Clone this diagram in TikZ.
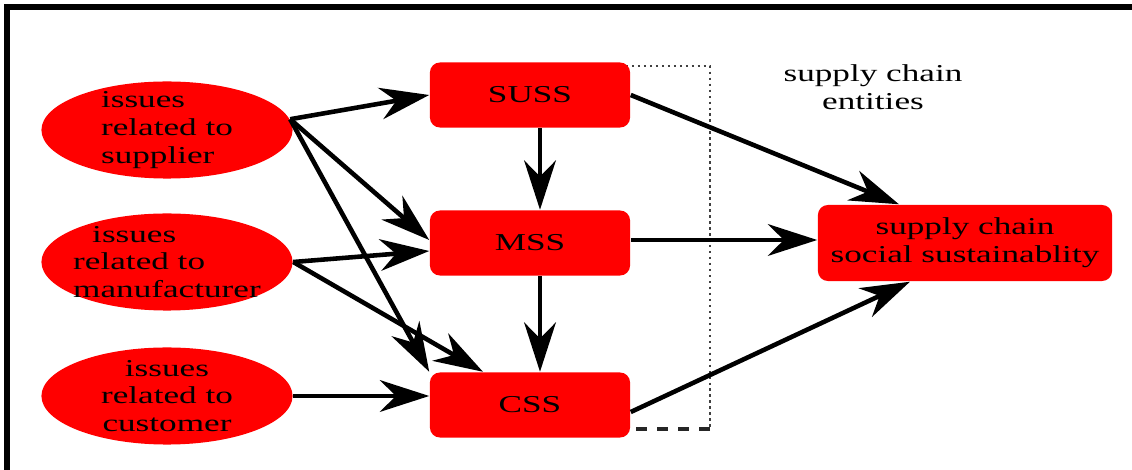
\documentclass[tikz,border=0pt]{standalone}
\usepackage{fontspec}
\setmainfont[FakeStretch=1.45]{Liberation Serif}
\usetikzlibrary{arrows.meta,shapes.geometric}

\newcommand{\sscfont}{\fontsize{6.9}{7.9}\selectfont}

\tikzset{
  issue/.style={ellipse, fill=red, minimum width=2.51cm, minimum height=0.97cm, inner sep=0pt},
  issuetext/.style={font=\sscfont, align=left, inner sep=0pt},
  entity/.style={rectangle, rounded corners=1mm, fill=red, minimum width=2cm, minimum height=0.65cm, inner sep=0pt, font=\sscfont},
  arr/.style={line width=1.3pt, -{Stealth[length=14pt,width=9pt,inset=4.5pt]}}
}

\begin{document}
\begin{tikzpicture}[x=0.01cm, y=-0.01cm]
    \useasboundingbox (0,0) rectangle (1132,470);

    % Frame
    \draw[line width=1.5pt] (7,470) -- (7,7) -- (1132,7);

    % Entities group
    \draw[black!75, densely dotted, line width=0.7pt] (620,66) -- (710,66) -- (710,429);
    \draw[black!85, dashed, line width=0.9pt] (710,429) -- (620,429);

    % Issues
    \node[issue, label={[issuetext]center:issues\\related to\\supplier}] (sup) at (167,130) {};
    \node[issue, label={[issuetext]center:\hspace{1.9mm}issues\\related to\\manufacturer}] (man) at (167,262) {};
    \node[issue, label={[issuetext, align=center]center:issues\\related to\\customer}] (cus) at (167,396) {};

    % Sustainability levels
    \node[entity] (suss) at (530,95) {SUSS};
    \node[entity] (mss) at (530,243) {MSS};
    \node[entity] (css) at (530,405) {CSS};
    \node[entity, minimum width=2.94cm, minimum height=0.76cm, align=center] (scss) at (965,243) {supply chain\\social sustainablity};

    \node[font=\sscfont, align=center] (ent) at (873,87) {supply chain\\entities};

    % Arrows from issues
    \draw[arr] (sup.5) -- (suss.west);
    \draw[arr] (sup.5) -- ([yshift=0.3mm]mss.west);
    \draw[arr] (sup.5) -- (css.north west);
    \draw[arr] (man.east) -- ([yshift=-0.8mm]mss.west);
    \draw[arr] (man.east) -- ([xshift=-4.7mm]css.north);
    \draw[arr] (cus.east) -- (cus.east -| css.west);

    % Between levels
    \draw[arr] ([xshift=1mm]suss.south) -- ([xshift=1mm]mss.north);
    \draw[arr] ([xshift=1mm]mss.south) -- ([xshift=1mm]css.north);

    % To social sustainability
    \draw[arr] (suss.east) -- ([xshift=-6.6mm]scss.north);
    \draw[arr] ([yshift=0.3mm]mss.east) -- ([yshift=0.3mm]scss.west);
    \draw[arr] ([yshift=-0.7mm]css.east) -- ([xshift=-5.5mm]scss.south);
\end{tikzpicture}
\end{document}
